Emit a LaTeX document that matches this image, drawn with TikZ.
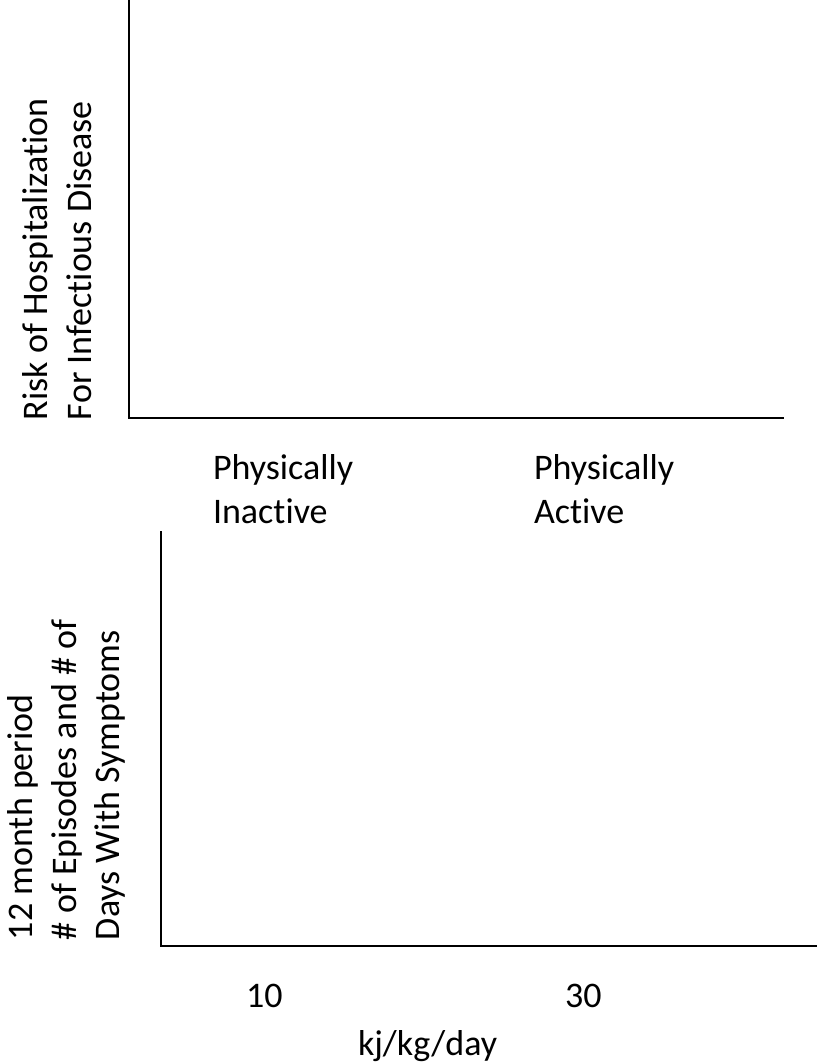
\documentclass[tikz,border=0pt]{standalone}
\usepackage{fontspec}
\setmainfont{Carlito}[Ligatures={NoCommon,TeX}]
\begin{document}
\begin{tikzpicture}[x=1pt,y=-1pt,
  lbl/.style={inner sep=0pt,outer sep=0pt,anchor=base west,font=\fontsize{36}{44}\selectfont},
  vlbl/.style={lbl,rotate=90},
  axis/.style={line width=1.6pt,line cap=butt}]
\useasboundingbox (0,0) rectangle (817,1063);
% top axes
\coordinate (t0) at (129,0);
\coordinate (to) at (129,418);
\coordinate (t1) at (784,418);
\draw[axis] (t0) -- (to) -- (t1);
% bottom axes
\coordinate (b0) at (161,531);
\coordinate (bo) at (161,946);
\coordinate (b1) at (817,946);
\draw[axis] (b0) -- (bo) -- (b1);
% top y label
\node[vlbl] (ty1) at (47,420) {Risk of Hospitalization};
\node[vlbl] (ty2) at (91,420) {For Infectious Disease};
% category labels
\node[lbl] (pi1) at (213,479) {Physically};
\node[lbl] (pi2) at (213,523) {Inactive};
\node[lbl] (pa1) at (534,479) {Physically};
\node[lbl] (pa2) at (534,523) {Active};
% bottom y label
\node[vlbl] (by1) at (32,940) {12 month period};
\node[vlbl] (by2) at (76,940) {\# of Episodes and \# of};
\node[vlbl] (by3) at (119,940) {Days With Symptoms};
% x ticks
\node[lbl] (x10) at (246,1007) {10};
\node[lbl] (x30) at (565,1007) {30};
\node[lbl] (xl) at (358,1055) {kj/kg/day};
\end{tikzpicture}
\end{document}
